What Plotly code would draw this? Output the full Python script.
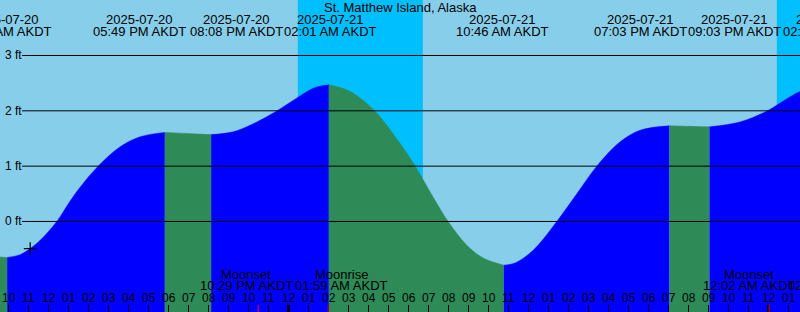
import pandas as pd
import plotly.graph_objects as go

# ---------------- data ----------------
title_text = "St. Matthew Island, Alaska"

curve_times = ["2025-07-20 09:30", "2025-07-20 09:56", "2025-07-20 10:35", "2025-07-20 11:05",
               "2025-07-20 11:35", "2025-07-20 12:25", "2025-07-20 13:05", "2025-07-20 13:35",
               "2025-07-20 14:29", "2025-07-20 15:35", "2025-07-20 16:35", "2025-07-20 17:49",
               "2025-07-20 18:58", "2025-07-20 20:08", "2025-07-20 21:14", "2025-07-20 22:05",
               "2025-07-20 23:20", "2025-07-21 00:35", "2025-07-21 01:20", "2025-07-21 02:01",
               "2025-07-21 03:05", "2025-07-21 04:20", "2025-07-21 05:30", "2025-07-21 06:20",
               "2025-07-21 07:14", "2025-07-21 07:59", "2025-07-21 08:55", "2025-07-21 09:44",
               "2025-07-21 10:46", "2025-07-21 11:20", "2025-07-21 12:14", "2025-07-21 13:25",
               "2025-07-21 14:25", "2025-07-21 15:25", "2025-07-21 16:35", "2025-07-21 17:35",
               "2025-07-21 19:03", "2025-07-21 20:02", "2025-07-21 21:03", "2025-07-21 22:35",
               "2025-07-21 23:50", "2025-07-22 01:35", "2025-07-22 02:45"]
curve_heights = [-0.64, -0.65, -0.60, -0.49,
                 -0.34, 0.0, 0.37, 0.62,
                 1.0, 1.35, 1.53, 1.61,
                 1.59, 1.57, 1.62, 1.74,
                 1.98, 2.27, 2.42, 2.47,
                 2.35, 1.99, 1.45, 1.0,
                 0.44, 0.0, -0.43, -0.66,
                 -0.79, -0.75, -0.52, 0.0,
                 0.50, 1.0, 1.44, 1.65,
                 1.73, 1.72, 1.71, 1.80,
                 1.98, 2.35, 2.47]

event_times = ["2025-07-20 09:56", "2025-07-20 17:49", "2025-07-20 20:08", "2025-07-21 02:01",
               "2025-07-21 10:46", "2025-07-21 19:03", "2025-07-21 21:03", "2025-07-22 02:45"]
event_kinds = ["Low", "High", "Low", "High", "Low", "High", "Low", "High"]
event_dates = ["2025-07-20", "2025-07-20", "2025-07-20", "2025-07-21",
               "2025-07-21", "2025-07-21", "2025-07-21", "2025-07-22"]
event_clock = ["09:56 AM AKDT", "05:49 PM AKDT", "08:08 PM AKDT", "02:01 AM AKDT",
               "10:46 AM AKDT", "07:03 PM AKDT", "09:03 PM AKDT", "02:45 AM AKDT"]

moon_times = ["2025-07-20 22:29", "2025-07-21 01:59", "2025-07-22 00:02", "2025-07-22 02:25"]
moon_kinds = ["Moonset", "Moonrise", "Moonset", "Moonrise"]
moon_clock = ["10:29 PM AKDT", "01:59 AM AKDT", "12:02 AM AKDT", "02:25 AM AKDT"]

night_starts = ["2025-07-21 00:28", "2025-07-22 00:25"]
night_ends = ["2025-07-21 06:43", "2025-07-22 06:46"]

level_ticks = [0, 1, 2, 3]
level_labels = ["0 ft", "1 ft", "2 ft", "3 ft"]

mark_time = ["2025-07-20 11:05"]
mark_height = [-0.49]

# ---------------- layout / style ----------------
W, H = 800, 312
HOURS_SHOWN = 40
PX_PER_HOUR = W / HOURS_SHOWN
t0 = pd.Timestamp("2025-07-20 09:34:30")
t1 = t0 + pd.Timedelta(hours=HOURS_SHOWN)
Y_RANGE = [-1.636, 4.003]
BASE = -3.0

DAY = "#87CEEB"
NIGHT = "#00BFFF"
FLOOD = "#0000FF"
EBB = "#2E8B57"
FONT = "Liberation Sans, Arial, sans-serif"

label_nudge = [-2, -25, 25, 2, -1, -29.5, 25, 6]
moon_nudge = [-12, 13, -20, 18]

hour_ticks = pd.date_range("2025-07-20 10:00", "2025-07-22 01:00", freq="h")
hour_labels = [t.strftime("%I") for t in hour_ticks]


def yp(px):
    return 1 - px / H


def anchor(t, nudge):
    t = pd.Timestamp(t)
    a = min(max(t, t0), t1)
    shift = (t - a) / pd.Timedelta(hours=1) * PX_PER_HOUR + nudge
    return a, shift


df = pd.DataFrame({"t": pd.to_datetime(curve_times), "h": curve_heights})
ev = pd.to_datetime(event_times)

fig = go.Figure()

# segments of the tide curve: ebb (green) / flood (blue)
bounds = [df["t"].iloc[0]] + list(ev)
for i in range(len(bounds) - 1):
    a, b = bounds[i], bounds[i + 1]
    color = FLOOD if event_kinds[i] == "High" else EBB
    seg = df[(df["t"] >= a) & (df["t"] <= b)]
    fig.add_trace(go.Scatter(x=[a, b], y=[BASE, BASE], mode="lines",
                             line=dict(width=0), hoverinfo="skip", showlegend=False))
    fig.add_trace(go.Scatter(x=seg["t"], y=seg["h"], mode="lines", fill="tonexty",
                             fillcolor=color,
                             line=dict(width=0.5, color=color, shape="spline", smoothing=1),
                             hoverinfo="skip", showlegend=False))

fig.add_trace(go.Scatter(x=pd.to_datetime(mark_time), y=mark_height, mode="markers",
                         marker=dict(symbol="cross-thin", size=9, line=dict(width=1.2, color="black")),
                         hoverinfo="skip", showlegend=False))

shapes = []
for s, e in zip(night_starts, night_ends):
    shapes.append(dict(type="rect", xref="x", yref="paper", x0=s, x1=e, y0=0, y1=1,
                       fillcolor=NIGHT, line=dict(width=0), layer="below"))
for lv in level_ticks:
    shapes.append(dict(type="line", xref="paper", yref="y", x0=22 / W, x1=1, y0=lv, y1=lv,
                       line=dict(color="black", width=1), layer="above"))
for t in hour_ticks:
    wid = 3 if t.hour == 0 else 1
    shapes.append(dict(type="line", xref="x", yref="paper", x0=t, x1=t, y0=0, y1=7 / H,
                       line=dict(color="black", width=wid), layer="above"))
for t in moon_times:
    shapes.append(dict(type="line", xref="x", yref="paper", x0=t, x1=t, y0=0, y1=7 / H,
                       line=dict(color="red", width=1), layer="above"))

ann = []
ann.append(dict(text=title_text, xref="paper", yref="paper", x=0.5, y=yp(7.5),
                xanchor="center", yanchor="middle", showarrow=False,
                font=dict(family=FONT, size=13, color="black")))
for t, d, c, n in zip(event_times, event_dates, event_clock, label_nudge):
    a, sh = anchor(t, n)
    for txt, ypx in ((d, 19.5), (c, 31.5)):
        ann.append(dict(text=txt, xref="x", yref="paper", x=a, y=yp(ypx), xshift=sh,
                        xanchor="center", yanchor="middle", showarrow=False,
                        font=dict(family=FONT, size=13, color="black")))
for t, k, c, n in zip(moon_times, moon_kinds, moon_clock, moon_nudge):
    a, sh = anchor(t, n)
    for txt, ypx in ((k, 274), (c, 285.5)):
        ann.append(dict(text=txt, xref="x", yref="paper", x=a, y=yp(ypx), xshift=sh,
                        xanchor="center", yanchor="middle", showarrow=False,
                        font=dict(family=FONT, size=13, color="black")))
for t, lab in zip(hour_ticks, hour_labels):
    ann.append(dict(text=lab, xref="x", yref="paper", x=t, y=yp(297.5),
                    xanchor="center", yanchor="middle", showarrow=False,
                    font=dict(family=FONT, size=12, color="black")))
for lv, lab in zip(level_ticks, level_labels):
    ann.append(dict(text=lab, xref="paper", yref="y", x=2.5 / W, y=lv,
                    xanchor="left", yanchor="middle", showarrow=False,
                    font=dict(family=FONT, size=12, color="black")))

fig.update_layout(
    width=W, height=H, margin=dict(l=0, r=0, t=0, b=0),
    paper_bgcolor=DAY, plot_bgcolor=DAY,
    xaxis=dict(type="date", range=[t0, t1], visible=False, fixedrange=True),
    yaxis=dict(range=Y_RANGE, visible=False, fixedrange=True),
    shapes=shapes, annotations=ann, showlegend=False,
)

fig.write_html("out.html", config={"displayModeBar": False})
